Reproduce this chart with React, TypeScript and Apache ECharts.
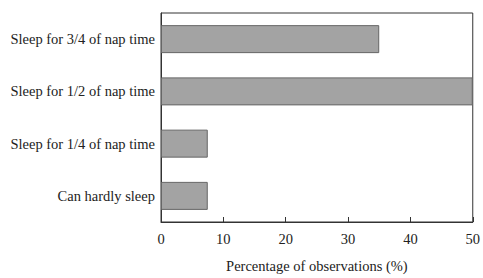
import React, { useEffect, useRef } from "react";
import * as echarts from "echarts";

const categories = [
  "Can hardly sleep",
  "Sleep for 1/4 of nap time",
  "Sleep for 1/2 of nap time",
  "Sleep for 3/4 of nap time",
];
const values = [7.5, 7.5, 50, 35];
const xTicks = [0, 10, 20, 30, 40, 50];

export default function App() {
  const ref = useRef<HTMLDivElement>(null);
  useEffect(() => {
    const chart = echarts.init(ref.current!, null, { renderer: "svg" });
    const font = "Liberation Serif";
    chart.setOption({
      animation: false,
      grid: {
        left: 161,
        right: 9,
        top: 13,
        bottom: 51,
        show: true,
        borderColor: "#333",
        borderWidth: 1,
        containLabel: false,
      },
      xAxis: {
        type: "value",
        min: xTicks[0],
        max: xTicks[xTicks.length - 1],
        interval: 10,
        name: "Percentage of observations (%)",
        nameLocation: "middle",
        nameGap: 36,
        nameTextStyle: { fontFamily: font, fontSize: 14.5, color: "#222" },
        axisLine: { show: true, lineStyle: { color: "#333", width: 1 } },
        axisTick: { show: true, inside: true, length: 5, lineStyle: { color: "#333" } },
        axisLabel: { fontFamily: font, fontSize: 14.5, color: "#222", margin: 9 },
        splitLine: { show: false },
      },
      yAxis: {
        type: "category",
        data: categories,
        axisLine: { show: true, lineStyle: { color: "#333", width: 1 } },
        axisTick: { show: false },
        axisLabel: { fontFamily: font, fontSize: 14.5, color: "#222", margin: 6 },
      },
      series: [
        {
          type: "bar",
          data: values,
          barWidth: 28,
          itemStyle: { color: "#a3a3a3", borderColor: "#666", borderWidth: 1 },
        },
      ],
    });
    return () => chart.dispose();
  }, []);
  return <div ref={ref} style={{ width: 483, height: 278, position: "absolute", left: 0, top: 0 }} />;
}
